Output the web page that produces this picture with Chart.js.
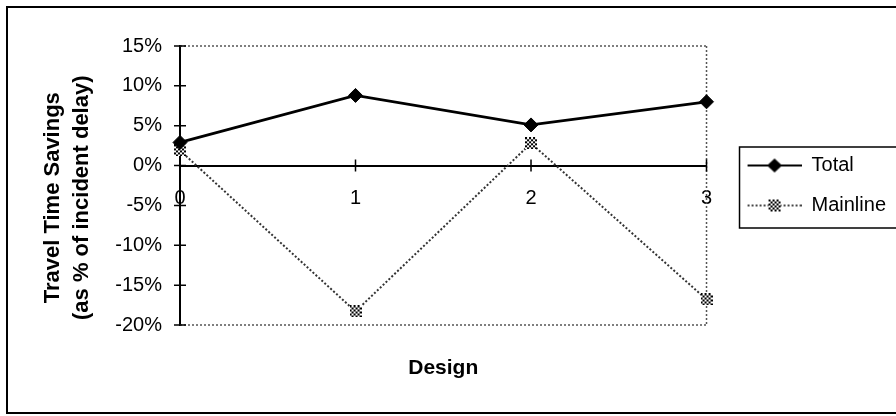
<!DOCTYPE html>
<html>
<head>
<meta charset="utf-8">
<script src="https://cdn.jsdelivr.net/npm/chart.js@4/dist/chart.umd.min.js"></script>
<style>
  html, body { margin: 0; padding: 0; background: #ffffff; }
  #wrap { width: 896px; height: 416px; }
</style>
</head>
<body>
<div id="wrap"><canvas id="c" width="896" height="416"></canvas></div>
<script>
// ---- data ----
const categories = ['0', '1', '2', '3'];
const totalValues = [2.9, 8.8, 5.1, 8.0];
const mainlineValues = [1.9, -18.3, 2.8, -16.8];
const seriesNames = ['Total', 'Mainline'];
const yMin = -20;
const yMax = 15;
const yStep = 5;
const yTitleLines = ['Travel Time Savings', '(as % of incident delay)'];
const xTitle = 'Design';

const FONT = "'Liberation Sans', Arial, Helvetica, sans-serif";

// ---- marker images ----
function checkerSquare(size) {
  const c = document.createElement('canvas');
  c.width = size; c.height = size;
  const g = c.getContext('2d');
  g.fillStyle = '#ffffff';
  g.fillRect(0, 0, size, size);
  g.fillStyle = '#000000';
  for (let i = 0; i < size; i += 2) {
    for (let j = 0; j < size; j += 2) {
      if (((i + j) / 2) % 2 === 0) g.fillRect(i, j, 2, 2);
    }
  }
  return c;
}
function drawCheckerAt(g, cx, cy, size) {
  const sq = checkerSquare(size);
  g.drawImage(sq, Math.round(cx - size / 2), Math.round(cy - size / 2));
}
const mainlineMarker = checkerSquare(12);

function legendTotalImage() {
  const c = document.createElement('canvas');
  c.width = 75; c.height = 18;
  const g = c.getContext('2d');
  g.strokeStyle = '#000'; g.lineWidth = 2;
  g.beginPath(); g.moveTo(21, 9); g.lineTo(75, 9); g.stroke();
  g.fillStyle = '#000';
  g.beginPath(); g.moveTo(48, 2); g.lineTo(55.5, 9); g.lineTo(48, 16); g.lineTo(40.5, 9); g.closePath(); g.fill();
  return c;
}
function legendMainlineImage() {
  const c = document.createElement('canvas');
  c.width = 75; c.height = 18;
  const g = c.getContext('2d');
  g.strokeStyle = '#333'; g.lineWidth = 1.8; g.setLineDash([2, 2]);
  g.beginPath(); g.moveTo(21, 9); g.lineTo(75, 9); g.stroke();
  g.setLineDash([]);
  drawCheckerAt(g, 48, 9, 12);
  return c;
}
const legendImages = [legendTotalImage(), legendMainlineImage()];

// ---- decoration plugin ----
const framePlugin = {
  id: 'frames',
  beforeDatasetsDraw(chart) {
    const ctx = chart.ctx;
    const ca = chart.chartArea;
    ctx.save();
    // dotted plot frame (top, right, bottom)
    ctx.strokeStyle = '#555';
    ctx.lineWidth = 1.5;
    ctx.setLineDash([2, 2]);
    ctx.beginPath();
    ctx.moveTo(ca.left, ca.top); ctx.lineTo(ca.right, ca.top);
    ctx.moveTo(ca.right, ca.top); ctx.lineTo(ca.right, ca.bottom);
    ctx.moveTo(ca.left, ca.bottom); ctx.lineTo(ca.right, ca.bottom);
    ctx.stroke();
    ctx.setLineDash([]);
    // crossing tick marks
    ctx.strokeStyle = '#000';
    ctx.lineWidth = 1.5;
    const ys = chart.scales.y;
    ctx.beginPath();
    ys.ticks.forEach(t => {
      const py = ys.getPixelForValue(t.value);
      ctx.moveTo(ca.left - 6, py); ctx.lineTo(ca.left + 6, py);
    });
    const xs = chart.scales.x2;
    const zy = ys.getPixelForValue(0);
    xs.ticks.forEach((t, i) => {
      const px = xs.getPixelForTick(i);
      ctx.moveTo(px, zy - 6); ctx.lineTo(px, zy + 6);
    });
    ctx.stroke();
    ctx.restore();
  },
  afterDraw(chart) {
    const ctx = chart.ctx;
    ctx.save();
    ctx.strokeStyle = '#000';
    ctx.lineWidth = 2;
    ctx.strokeRect(7, 7, 900, 406);
    const hb = chart.legend.legendHitBoxes;
    if (hb && hb.length) {
      const first = hb[0], last = hb[hb.length - 1];
      const top = first.top - 8.5;
      const bottom = last.top + last.height + 12.5;
      ctx.lineWidth = 1.5;
      ctx.strokeRect(first.left + 13, top, 200, bottom - top);
    }
    ctx.restore();
  }
};

const pad = '\u00A0\u00A0\u00A0\u00A0';

new Chart(document.getElementById('c'), {
  type: 'line',
  data: {
    labels: categories,
    datasets: [
      {
        label: seriesNames[0],
        data: totalValues,
        borderColor: '#000',
        backgroundColor: '#000',
        borderWidth: 2.8,
        pointStyle: 'rectRot',
        pointRadius: 7,
        pointBackgroundColor: '#000',
        pointBorderColor: '#000',
        pointBorderWidth: 1,
        tension: 0,
        clip: false
      },
      {
        label: seriesNames[1],
        data: mainlineValues,
        borderColor: '#333',
        backgroundColor: '#888',
        borderWidth: 2,
        borderDash: [2, 2],
        pointStyle: mainlineMarker,
        pointRadius: 7,
        tension: 0,
        clip: false
      }
    ]
  },
  options: {
    responsive: false,
    animation: false,
    devicePixelRatio: 1,
    layout: { padding: { left: 0, right: 0, top: 46, bottom: 0 } },
    scales: {
      x: {
        type: 'category',
        position: 'bottom',
        offset: false,
        ticks: { display: false },
        grid: { display: false },
        border: { display: false },
        title: {
          display: true,
          text: xTitle,
          color: '#000',
          font: { family: FONT, size: 21, weight: 'bold', lineHeight: 1.2 },
          padding: { top: 0, bottom: 35.4 }
        },
        afterFit(scale) { scale.height = 91; }
      },
      x2: {
        type: 'category',
        axis: 'x',
        labels: categories,
        position: { y: 0 },
        offset: false,
        grid: { display: true, drawOnChartArea: false, drawTicks: false },
        border: { display: true, color: '#000', width: 2 },
        ticks: {
          color: '#000',
          padding: 21,
          maxRotation: 0,
          font: { family: FONT, size: 20 }
        },
        afterFit(scale) { scale.height = 0; }
      },
      y: {
        type: 'linear',
        position: 'left',
        min: yMin,
        max: yMax,
        grid: { display: true, drawOnChartArea: false, drawTicks: false },
        border: { display: true, color: '#000', width: 2 },
        ticks: {
          stepSize: yStep,
          color: '#000',
          padding: 18,
          font: { family: FONT, size: 20 },
          callback: v => v + '%'
        },
        title: {
          display: true,
          text: [yTitleLines[0] + pad, yTitleLines[1] + pad],
          color: '#000',
          font: { family: FONT, size: 22, weight: 'bold', lineHeight: 29 / 22 },
          padding: { top: 38.5, bottom: 0 }
        },
        afterFit(scale) { scale.width = 180; }
      }
    },
    plugins: {
      tooltip: { enabled: false },
      legend: {
        display: true,
        position: 'right',
        fullSize: false,
        align: 'center',
        labels: {
          usePointStyle: true,
          pointStyleWidth: 75,
          padding: 20,
          color: '#000',
          font: { family: FONT, size: 20 },
          generateLabels(chart) {
            return chart.data.datasets.map((ds, i) => ({
              text: ds.label,
              datasetIndex: i,
              hidden: false,
              pointStyle: legendImages[i],
              fillStyle: '#000',
              strokeStyle: '#000',
              lineWidth: 0,
              fontColor: '#000'
            }));
          }
        }
      }
    }
  },
  plugins: [framePlugin]
});
</script>
</body>
</html>
